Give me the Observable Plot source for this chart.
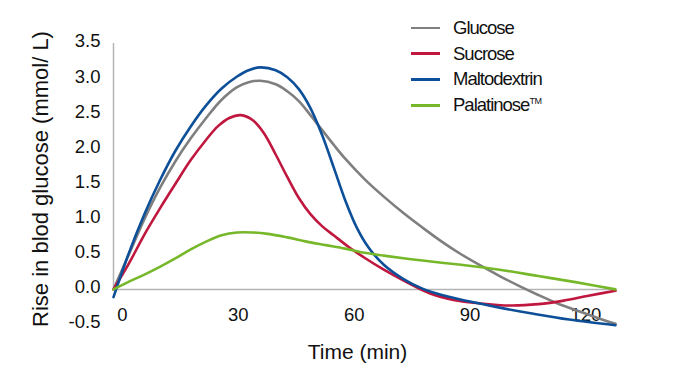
<!DOCTYPE html>
<html>
<head>
<meta charset="utf-8">
<script src="https://cdn.jsdelivr.net/npm/d3@7"></script>
<script src="https://cdn.jsdelivr.net/npm/@observablehq/plot@0.6"></script>
<style>
  html, body { margin: 0; padding: 0; background: #fff; }
  #wrap { position: relative; width: 674px; height: 374px; font-family: "Liberation Sans", Arial, sans-serif; }
  #legend { position: absolute; left: 411px; top: 15px; }
  .row { height: 25.8px; display: flex; align-items: center; font-size: 18.5px; letter-spacing: -1px; color: #111; }
  .sw { width: 29px; height: 2.8px; margin-right: 13px; }
  sup { font-size: 9px; letter-spacing: -0.5px; vertical-align: 7px; }
</style>
</head>
<body>
<div id="wrap"><div id="legend"></div></div>
<script>
const seriesNames = ["Glucose", "Sucrose", "Maltodextrin", "Palatinose"];
const seriesColors = ["#7f7f7f", "#c0173f", "#0d4f98", "#77b82b"];

const glucoseT = [0, 4, 8, 12, 16, 20, 24, 28, 32, 35, 38, 42, 45, 48, 51, 54, 57, 60, 65, 70, 75, 80, 85, 90, 95, 100, 105, 110, 115, 120, 125, 130];
const glucoseV = [0, 0.5, 1.0, 1.44, 1.82, 2.15, 2.44, 2.7, 2.88, 2.95, 2.97, 2.92, 2.82, 2.68, 2.48, 2.27, 2.06, 1.86, 1.57, 1.32, 1.09, 0.88, 0.68, 0.5, 0.34, 0.19, 0.05, -0.08, -0.2, -0.3, -0.4, -0.49];

const sucroseT = [0, 4, 8, 12, 16, 20, 24, 27, 30, 33, 36, 39, 42, 45, 48, 51, 54, 57, 61, 65, 70, 76, 82, 88, 95, 103, 110, 116.6, 123, 130];
const sucroseV = [0, 0.37, 0.78, 1.15, 1.5, 1.84, 2.13, 2.32, 2.44, 2.48, 2.41, 2.22, 1.92, 1.6, 1.3, 1.07, 0.9, 0.77, 0.6, 0.45, 0.28, 0.1, -0.06, -0.15, -0.2, -0.23, -0.21, -0.16, -0.09, -0.02];

const maltoT = [0, 4, 8, 12, 16, 20, 24, 28, 32, 35, 38, 42, 45, 48, 51, 54, 57, 60, 63, 66, 70, 75, 80, 85, 92, 100, 108, 118, 130];
const maltoV = [-0.11, 0.52, 1.07, 1.55, 1.97, 2.32, 2.62, 2.86, 3.03, 3.12, 3.16, 3.12, 3.02, 2.85, 2.58, 2.2, 1.74, 1.27, 0.88, 0.6, 0.35, 0.15, 0.01, -0.08, -0.17, -0.26, -0.34, -0.43, -0.51];

const palatT = [0, 4, 8, 12, 16, 20, 24, 28, 32, 36, 40, 45, 50, 55, 60, 65, 70, 80, 90, 100, 110, 120, 130];
const palatV = [0, 0.11, 0.21, 0.32, 0.44, 0.57, 0.68, 0.77, 0.81, 0.81, 0.79, 0.74, 0.68, 0.63, 0.58, 0.52, 0.48, 0.41, 0.35, 0.28, 0.19, 0.1, 0.0];

const xTicks = [0, 30, 60, 90, 120];
const yTicks = [-0.5, 0, 0.5, 1, 1.5, 2, 2.5, 3, 3.5];
const xTitle = "Time (min)";
const yTitle = "Rise in blod glucose (mmol/ L)";

const seriesT = [glucoseT, sucroseT, maltoT, palatT];
const seriesV = [glucoseV, sucroseV, maltoV, palatV];
const data = [];
seriesNames.forEach((name, i) => {
  seriesT[i].forEach((t, j) => data.push({series: name, t, v: seriesV[i][j]}));
});

const plot = Plot.plot({
  width: 674,
  height: 374,
  marginLeft: 113,
  marginRight: 59,
  marginTop: 43,
  marginBottom: 50,
  style: {fontFamily: "'Liberation Sans', Arial, sans-serif", fontSize: "18.5px", color: "#111", background: "#fff"},
  x: {domain: [0, 130]},
  y: {domain: [-0.5, 3.5]},
  color: {domain: seriesNames, range: seriesColors},
  marks: [
    Plot.ruleY([0], {x1: 0, x2: 130, stroke: "#b4b4b4", strokeWidth: 1.5}),
    Plot.ruleX([0], {y1: 0, y2: 3.5, stroke: "#b4b4b4", strokeWidth: 1.5}),
    Plot.axisY({ticks: yTicks, tickFormat: d => d.toFixed(1), tickSize: 0, tickPadding: 13, dy: -2, label: null, fontSize: 18.5, letterSpacing: "-1px"}),
    Plot.axisX({ticks: xTicks, tickFormat: d => String(d), tickSize: 0, tickPadding: 0, dy: -17, dx: 9, label: null, fontSize: 18.5, letterSpacing: "-1px"}),
    Plot.line(data, {x: "t", y: "v", z: "series", stroke: "series", strokeWidth: 2.6, curve: "catmull-rom"}),
    Plot.text([xTitle], {frameAnchor: "bottom", dy: 28, dx: -7, fontSize: 21, letterSpacing: "-1px", lineAnchor: "middle", textAnchor: "middle"}),
    Plot.text([yTitle], {frameAnchor: "left", rotate: -90, dx: -73, dy: -5, fontSize: 22, letterSpacing: "-0.5px", lineAnchor: "middle", textAnchor: "middle"})
  ]
});
document.getElementById("wrap").prepend(plot);

const legend = document.getElementById("legend");
seriesNames.forEach((name, i) => {
  const row = document.createElement("div");
  row.className = "row";
  const sw = document.createElement("div");
  sw.className = "sw";
  sw.style.background = seriesColors[i];
  const label = document.createElement("span");
  label.textContent = name;
  row.appendChild(sw);
  row.appendChild(label);
  if (name === "Palatinose") {
    const sup = document.createElement("sup");
    sup.textContent = "TM";
    label.appendChild(sup);
  }
  legend.appendChild(row);
});
</script>
</body>
</html>
